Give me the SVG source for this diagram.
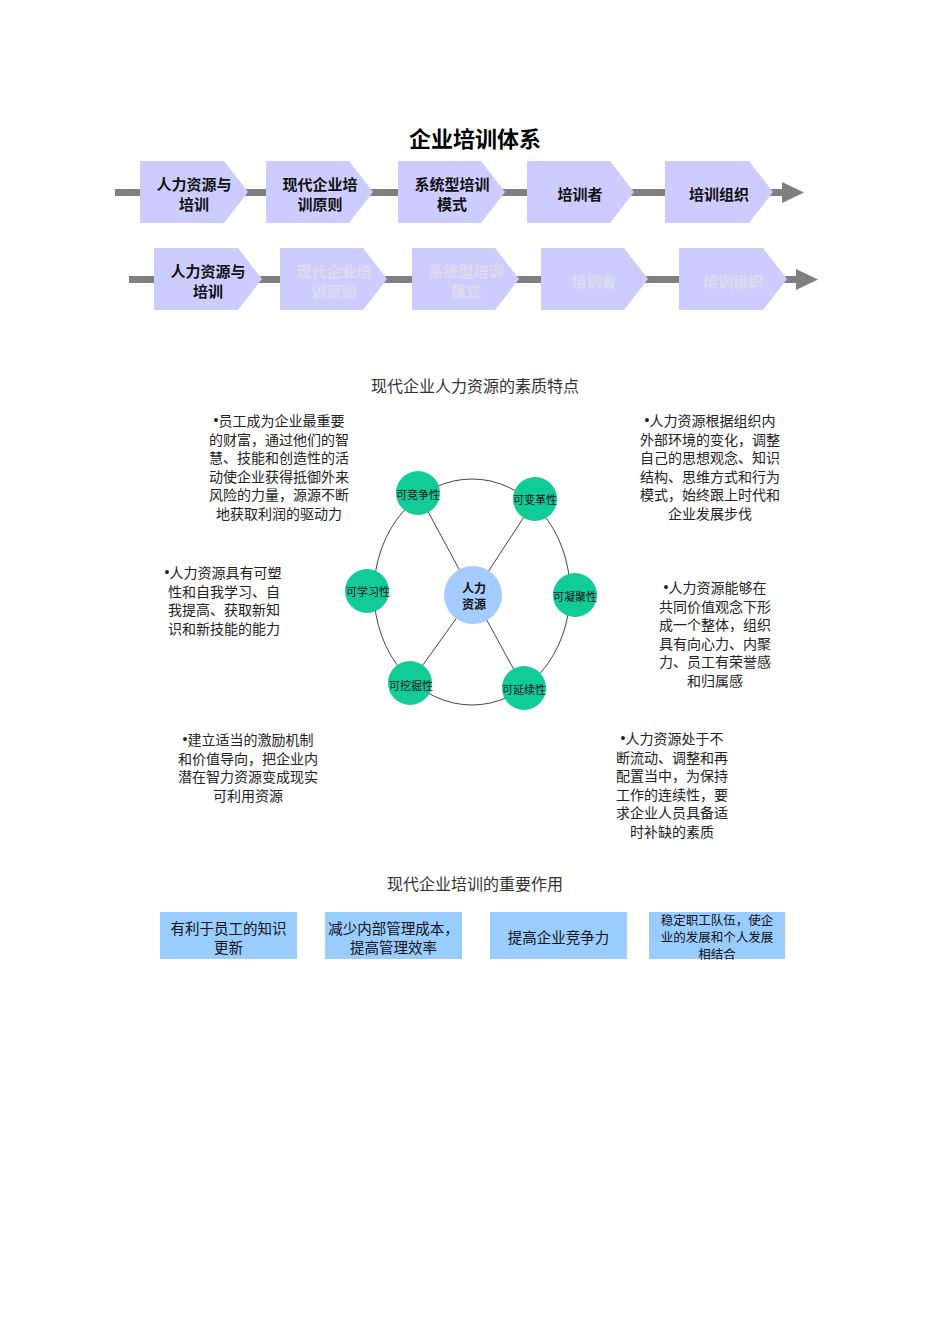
<svg xmlns="http://www.w3.org/2000/svg" width="950" height="1344" viewBox="0 0 950 1344">
<defs>
<style>
text{font-family:"Noto Sans CJK SC","Liberation Sans",sans-serif;fill:#1a1a1a;text-anchor:middle;dominant-baseline:central}
.title{font-size:22px;font-weight:bold;fill:#000}
.sec{font-size:16px;fill:#333}
.chev{fill:#ccccff}
.ct{font-size:15px;font-weight:bold;fill:#111}
.cg{font-size:15px;font-weight:bold;fill:#dcdcea}
.bar{fill:#808080}
.body{font-size:14px;fill:#222}
.bul{font-family:"Liberation Sans",sans-serif}
.green{fill:#11cc99}
.gl{font-size:11px;fill:#111}
.hub{fill:#a4ccff}
.hl{font-size:12px;font-weight:bold;fill:#111}
.box{fill:#99ccff}
.bt{font-size:14.5px;fill:#111}
.bs{font-size:12.5px;fill:#111}
.ln{stroke:#444;stroke-width:1;fill:none}
</style>
</defs>
<rect width="950" height="1344" fill="#fff"/>
<text id="title" class="title" x="475" y="137">企业培训体系</text>

<g id="connectors">
<rect class="bar" x="115" y="189" width="668" height="7"/>
<polygon class="bar" points="782,182 804,192.5 782,203"/>
<rect class="bar" x="129" y="276" width="668" height="7"/>
<polygon class="bar" points="796,269 818,279.5 796,290"/>
<ellipse class="ln" cx="472" cy="592" rx="98" ry="113" stroke="#555"/>
<line class="ln" x1="418" y1="493" x2="473" y2="595"/>
<line class="ln" x1="535" y1="500" x2="473" y2="595"/>
<line class="ln" x1="410" y1="683" x2="473" y2="595"/>
<line class="ln" x1="524" y1="688" x2="473" y2="595"/>
</g>

<g id="row1-n1"><path class="chev" d="M140 161h84l24 31l-24 31h-84z"/><text class="ct" x="194" y="183.5">人力资源与</text><text class="ct" x="194" y="203.5">培训</text></g>
<g id="row1-n2"><path class="chev" d="M266 161h83l24 31l-24 31h-83z"/><text class="ct" x="320" y="183.5">现代企业培</text><text class="ct" x="320" y="203.5">训原则</text></g>
<g id="row1-n3"><path class="chev" d="M398 161h83l24 31l-24 31h-83z"/><text class="ct" x="452" y="183.5">系统型培训</text><text class="ct" x="452" y="203.5">模式</text></g>
<g id="row1-n4"><path class="chev" d="M527 161h83l24 31l-24 31h-83z"/><text class="ct" x="580" y="193">培训者</text></g>
<g id="row1-n5"><path class="chev" d="M665 161h84l24 31l-24 31h-84z"/><text class="ct" x="719" y="193">培训组织</text></g>

<g id="row2-n1"><path class="chev" d="M154 248h84l24 31l-24 31h-84z"/><text class="ct" x="208" y="270.5">人力资源与</text><text class="ct" x="208" y="290.5">培训</text></g>
<g id="row2-n2"><path class="chev" d="M280 248h83l24 31l-24 31h-83z"/><text class="cg" x="334" y="270.5">现代企业培</text><text class="cg" x="334" y="290.5">训原则</text></g>
<g id="row2-n3"><path class="chev" d="M412 248h83l24 31l-24 31h-83z"/><text class="cg" x="466" y="270.5">系统型培训</text><text class="cg" x="466" y="290.5">模式</text></g>
<g id="row2-n4"><path class="chev" d="M541 248h83l24 31l-24 31h-83z"/><text class="cg" x="594" y="280">培训者</text></g>
<g id="row2-n5"><path class="chev" d="M679 248h84l24 31l-24 31h-84z"/><text class="cg" x="733" y="280">培训组织</text></g>

<text id="sec2" class="sec" x="475" y="385">现代企业人力资源的素质特点</text>

<g id="hub"><circle class="hub" cx="473" cy="595" r="29"/><text class="hl" x="474" y="587">人力</text><text class="hl" x="474" y="603">资源</text></g>
<g id="n-jingzheng"><circle class="green" cx="418" cy="493" r="22"/><text class="gl" x="418" y="494">可竞争性</text></g>
<g id="n-biange"><circle class="green" cx="535" cy="499" r="22"/><text class="gl" x="535" y="499">可变革性</text></g>
<g id="n-xuexi"><circle class="green" cx="367" cy="591" r="22"/><text class="gl" x="368" y="591">可学习性</text></g>
<g id="n-ningju"><circle class="green" cx="575" cy="595" r="22"/><text class="gl" x="575" y="596">可凝聚性</text></g>
<g id="n-wajue"><circle class="green" cx="410" cy="683" r="22"/><text class="gl" x="411" y="685">可挖掘性</text></g>
<g id="n-yanxu"><circle class="green" cx="524" cy="688" r="22"/><text class="gl" x="524" y="689">可延续性</text></g>

<g id="t1">
<text class="body" x="279" y="420"><tspan class="bul">•</tspan>员工成为企业最重要</text>
<text class="body" x="279" y="438.6">的财富，通过他们的智</text>
<text class="body" x="279" y="457.2">慧、技能和创造性的活</text>
<text class="body" x="279" y="475.8">动使企业获得抵御外来</text>
<text class="body" x="279" y="494.4">风险的力量，源源不断</text>
<text class="body" x="279" y="513">地获取利润的驱动力</text>
</g>
<g id="t2">
<text class="body" x="710" y="420"><tspan class="bul">•</tspan>人力资源根据组织内</text>
<text class="body" x="710" y="438.6">外部环境的变化，调整</text>
<text class="body" x="710" y="457.2">自己的思想观念、知识</text>
<text class="body" x="710" y="475.8">结构、思维方式和行为</text>
<text class="body" x="710" y="494.4">模式，始终跟上时代和</text>
<text class="body" x="710" y="513">企业发展步伐</text>
</g>
<g id="t3">
<text class="body" x="223" y="572"><tspan class="bul">•</tspan>人力资源具有可塑</text>
<text class="body" x="224" y="590.6">性和自我学习、自</text>
<text class="body" x="224" y="609.2">我提高、获取新知</text>
<text class="body" x="224" y="627.8">识和新技能的能力</text>
</g>
<g id="t4">
<text class="body" x="715" y="587"><tspan class="bul">•</tspan>人力资源能够在</text>
<text class="body" x="715" y="605.6">共同价值观念下形</text>
<text class="body" x="715" y="624.2">成一个整体，组织</text>
<text class="body" x="715" y="642.8">具有向心力、内聚</text>
<text class="body" x="715" y="661.4">力、员工有荣誉感</text>
<text class="body" x="715" y="680">和归属感</text>
</g>
<g id="t5">
<text class="body" x="248" y="739"><tspan class="bul">•</tspan>建立适当的激励机制</text>
<text class="body" x="248" y="757.6">和价值导向，把企业内</text>
<text class="body" x="248" y="776.2">潜在智力资源变成现实</text>
<text class="body" x="248" y="794.8">可利用资源</text>
</g>
<g id="t6">
<text class="body" x="672" y="738"><tspan class="bul">•</tspan>人力资源处于不</text>
<text class="body" x="672" y="756.6">断流动、调整和再</text>
<text class="body" x="672" y="775.2">配置当中，为保持</text>
<text class="body" x="672" y="793.8">工作的连续性，要</text>
<text class="body" x="672" y="812.4">求企业人员具备适</text>
<text class="body" x="672" y="831">时补缺的素质</text>
</g>

<text id="sec3" class="sec" x="475" y="883">现代企业培训的重要作用</text>

<g id="b1"><rect class="box" x="160" y="912" width="137" height="47"/><text class="bt" x="228.5" y="927">有利于员工的知识</text><text class="bt" x="228.5" y="946">更新</text></g>
<g id="b2"><rect class="box" x="325" y="912" width="137" height="47"/><text class="bt" x="393.5" y="927">减少内部管理成本，</text><text class="bt" x="393.5" y="946">提高管理效率</text></g>
<g id="b3"><rect class="box" x="490" y="912" width="137" height="47"/><text class="bt" x="558.5" y="936">提高企业竞争力</text></g>
<g id="b4"><rect class="box" x="649" y="912" width="136" height="47"/><text class="bs" x="717" y="919.5">稳定职工队伍，使企</text><text class="bs" x="717" y="936.5">业的发展和个人发展</text><text class="bs" x="717" y="953.5">相结合</text></g>
</svg>
